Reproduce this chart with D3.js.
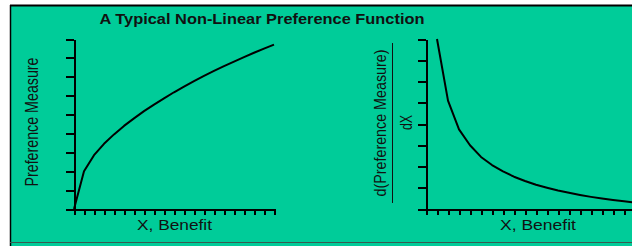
<!DOCTYPE html>
<html>
<head>
<meta charset="utf-8">
<script src="https://cdn.jsdelivr.net/npm/d3@7"></script>
<style>
  body { margin: 0; background: #fff; }
  svg { display: block; font-family: "Liberation Sans", Arial, sans-serif; }
  .axis path, .axis line { stroke: #000; stroke-width: 2; shape-rendering: crispEdges; }
  .curve { fill: none; stroke: #000; stroke-width: 2; stroke-linejoin: round; }
  .lbl { fill: #111; }
</style>
</head>
<body>
<svg id="chart" width="632" height="246"></svg>
<script>
// data
const title = "A Typical Non-Linear Preference Function";
const xLabel = "X, Benefit";
const leftYLabel = "Preference Measure";
const rightYNum = "d(Preference Measure)";
const rightYDen = "dX";

const benefitX = [0, 1, 2, 3, 4, 5, 6, 7, 8, 9, 10, 11, 12, 13, 14, 15, 16, 17, 18, 19, 20];
const preference = [0, 2.0, 2.85, 3.45, 3.95, 4.4, 4.8, 5.18, 5.53, 5.86, 6.18, 6.48, 6.77, 7.05, 7.31, 7.56, 7.8, 8.04, 8.27, 8.49, 8.7];

const slopeX = [1, 2, 3, 4, 5, 6, 7, 8, 9, 10, 11, 12, 13, 14, 15, 16, 17, 18, 19, 20];
const slope = [8.0, 5.1, 3.75, 3.0, 2.45, 2.07, 1.77, 1.52, 1.32, 1.14, 1.0, 0.87, 0.76, 0.66, 0.57, 0.49, 0.42, 0.36, 0.3, 0.25];

const leftYTicks = d3.range(0, 10);
const rightYTicks = d3.range(0, 9);
const xTicks = d3.range(0, 21);

const svg = d3.select("#chart");

// panel
svg.append("rect").attr("x", 10).attr("y", 5).attr("width", 640).attr("height", 250).attr("fill", "#00cc99");
svg.append("line").attr("x1", 10).attr("x2", 632).attr("y1", 5.5).attr("y2", 5.5).attr("stroke", "#000").attr("stroke-width", 2);
svg.append("line").attr("x1", 10.5).attr("x2", 10.5).attr("y1", 5).attr("y2", 246).attr("stroke", "#000").attr("stroke-width", 1.5);
svg.append("line").attr("x1", 10).attr("x2", 632).attr("y1", 242.5).attr("y2", 242.5).attr("stroke", "#3a5a50").attr("stroke-width", 1);

svg.append("text")
  .attr("x", 262).attr("y", 24)
  .attr("text-anchor", "middle")
  .attr("font-size", 15).attr("font-weight", "bold")
  .attr("textLength", 325).attr("lengthAdjust", "spacingAndGlyphs")
  .attr("fill", "#111")
  .text(title);

const drawPanel = (opts) => {
  const { x0, x1, xDomain, y0, y1, yMax, yTicks, xs, ys } = opts;
  const x = d3.scaleLinear().domain(xDomain).range([x0, x1]);
  const y = d3.scaleLinear().domain([0, yMax]).range([y0, y1]);

  svg.append("g").attr("class", "axis")
    .attr("transform", `translate(0,${y0})`)
    .call(d3.axisBottom(x).tickValues(xTicks).tickSize(6).tickSizeOuter(0).tickFormat(""));

  svg.append("g").attr("class", "axis")
    .attr("transform", `translate(${x0},0)`)
    .call(d3.axisLeft(y).tickValues(yTicks).tickSize(8).tickSizeOuter(0).tickFormat(""));

  const line = d3.line().x((d, i) => x(xs[i])).y((d) => y(d));
  svg.append("path").attr("class", "curve").attr("d", line(ys));
  return x;
};

const xl = drawPanel({
  x0: 74, x1: 274, xDomain: [0, 20], y0: 209, y1: 39, yMax: 9,
  yTicks: leftYTicks, xs: benefitX, ys: preference,
});

drawPanel({
  x0: 426, x1: 646, xDomain: [0, 20], y0: 209, y1: 39, yMax: 8,
  yTicks: rightYTicks, xs: slopeX, ys: slope,
});

const addText = (x, y, rot, size, len, txt) =>
  svg.append("text").attr("class", "lbl")
    .attr("transform", `translate(${x},${y}) rotate(${rot})`)
    .attr("text-anchor", "middle")
    .attr("font-size", size)
    .attr("textLength", len).attr("lengthAdjust", "spacingAndGlyphs")
    .text(txt);

// x labels
addText(xl(10.05), 229.5, 0, 15, 75, xLabel);
addText(538, 229.5, 0, 15, 76, xLabel);

// y labels
addText(38, 122, -90, 18, 129, leftYLabel);
addText(386, 123, -90, 17, 147, rightYNum);
svg.append("line")
  .attr("x1", 392.5).attr("x2", 392.5).attr("y1", 43).attr("y2", 203)
  .attr("stroke", "#111").attr("stroke-width", 1);
addText(412, 122.5, -90, 16, 15, rightYDen);
</script>
</body>
</html>
